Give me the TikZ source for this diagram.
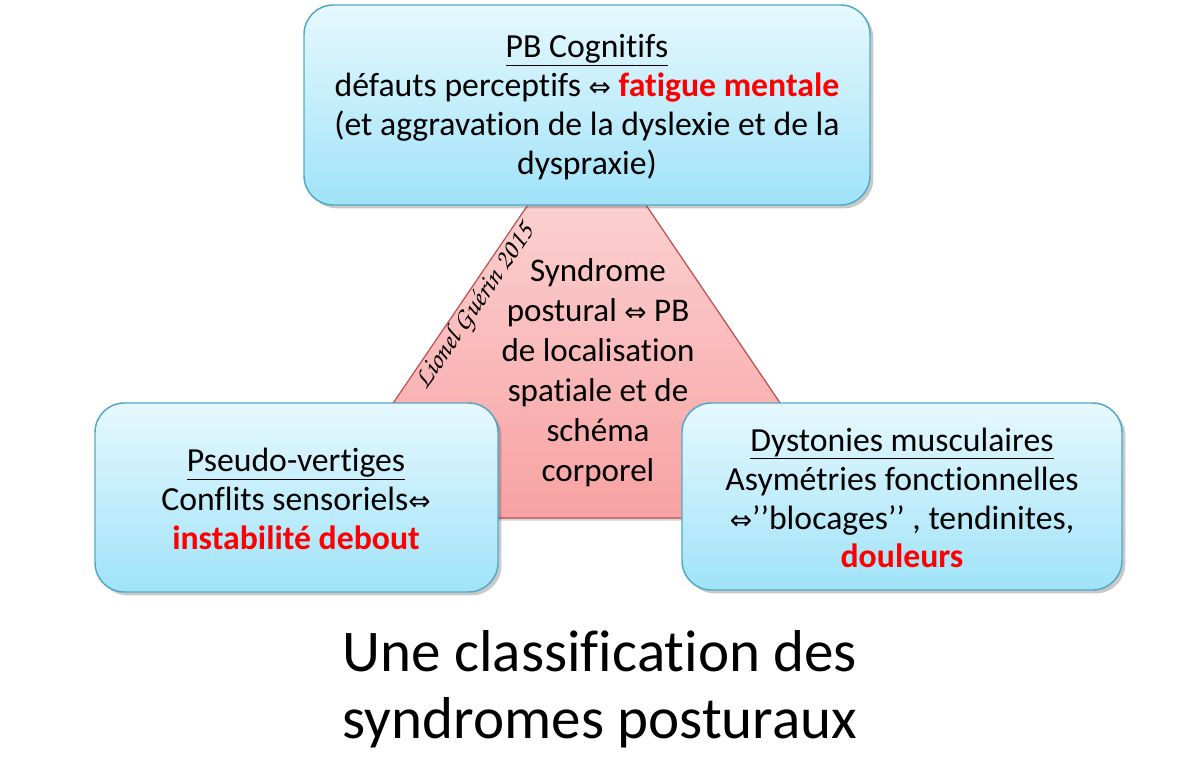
\documentclass[tikz,border=0pt]{standalone}
\usepackage[T1]{fontenc}
\usepackage{fontspec}
\setmainfont{Carlito}[Ligatures=NoCommon]
\newfontfamily\arrowfont{DejaVu Sans}
\usetikzlibrary{shadows}
\definecolor{boxtop}{HTML}{E6F8FE}
\definecolor{boxbot}{HTML}{A0E3F8}
\definecolor{boxline}{HTML}{52A9C6}
\definecolor{tritop}{HTML}{FCDCDC}
\definecolor{tribot}{HTML}{F8A2A2}
\definecolor{triline}{HTML}{C05050}
\definecolor{hot}{HTML}{FF0000}
\newcommand{\dbl}{{\arrowfont\fontsize{20}{22}\selectfont ⇔}}
\newcommand{\hotb}[1]{\textcolor{hot}{\bfseries #1}}
\tikzset{
  infobox/.style={draw=boxline, line width=1.1pt, rounded corners=22pt,
    top color=boxtop, bottom color=boxbot,
    drop shadow={shadow xshift=2.5pt, shadow yshift=-2.5pt, opacity=0.3, fill=black!70}},
  boxtext/.style={align=center, font=\fontsize{25.3}{29.2}\selectfont, inner sep=0pt},
}
\begin{document}
\begin{tikzpicture}[x=0.75pt,y=-0.75pt]
\useasboundingbox (0,0) rectangle (1200,770);
% triangle
\coordinate (tl) at (315,518);
\coordinate (tt) at (587,118);
\coordinate (tr) at (858,518);
\path[draw=triline, line width=0.9pt, top color=tritop, bottom color=tribot,
  drop shadow={shadow xshift=2pt, shadow yshift=-2pt, opacity=0.25, fill=black!70}]
  (tl) -- (tt) -- (tr) -- cycle;
\node[boxtext, font=\fontsize{24.8}{30}\selectfont] (tri) at (598,373)
  {Syndrome\\postural \dbl{} PB\\de localisation\\spatiale et de\\schéma\\corporel};
\node[rotate=55.7, inner sep=0pt] (sig) at (475,307)
  {\fontencoding{T1}\fontfamily{pzc}\fontseries{m}\fontshape{it}\fontsize{21}{24}\selectfont Lionel Gu\'erin 2015};
% boxes
\path[infobox] (304,5) rectangle (870,205);
\path[infobox] (95,403) rectangle (498,592);
\path[infobox] (682,403) rectangle (1122,590);
\node[boxtext] (top) at (587,107)
  {\underline{PB Cognitifs}\\défauts perceptifs \dbl{} \hotb{fatigue mentale}\\(et aggravation de la dyslexie et de la\\dyspraxie)};
\node[boxtext] (left) at (296,499)
  {\underline{Pseudo-vertiges}\\Conflits sensoriels\dbl\\\hotb{instabilité debout}};
\node[boxtext] (right) at (902,498)
  {\underline{Dystonies musculaires}\\Asymétries fonctionnelles\\\dbl’’blocages’’ , tendinites,\\\hotb{douleurs}};
\node[align=center, inner sep=0pt, font=\fontsize{44.3}{50.5}\selectfont] (title) at (600,689)
  {Une classification des\\syndromes posturaux};
\end{tikzpicture}
\end{document}
